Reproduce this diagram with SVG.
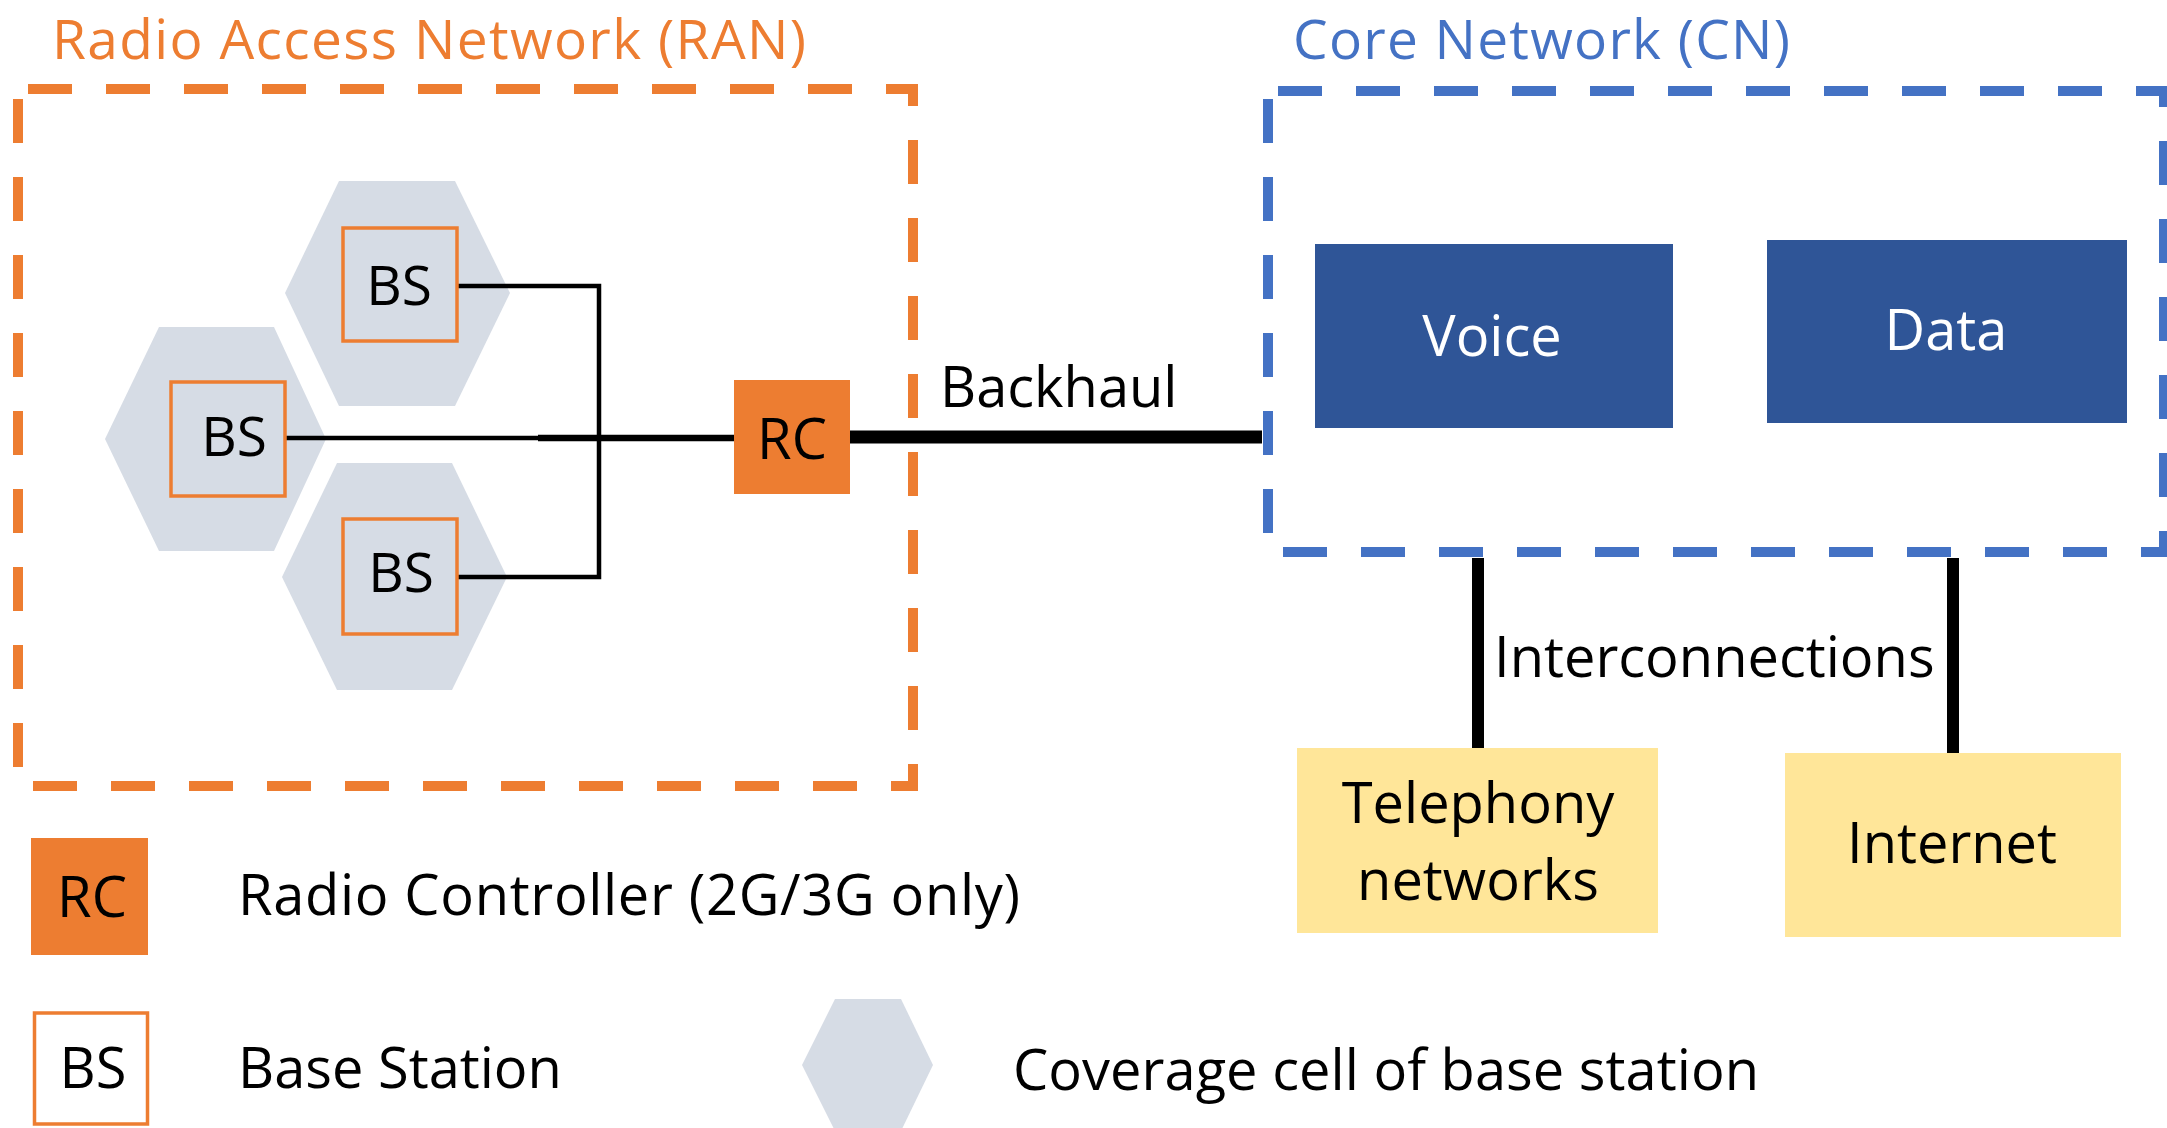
<svg xmlns="http://www.w3.org/2000/svg" width="2167" height="1128" viewBox="0 0 2167 1128">
<style>
text{font-family:"Open Sans","Noto Sans","Liberation Sans",sans-serif;font-size:56px;fill:#000}
.mid{text-anchor:middle}
.hex{fill:#D6DCE5}
.bs{fill:none;stroke:#ED7D31;stroke-width:3.5}
.rc{fill:#ED7D31}
.core{fill:#2F5597}
.ext{fill:#FFE699}
.dash{fill:none;stroke-width:10;stroke-dasharray:44 34;stroke-dashoffset:68}
.ln{fill:none;stroke:#000;stroke-linecap:butt}
.title{font-size:55px}
</style>
<rect width="2167" height="1128" fill="#fff"/>
<g id="ran-group">
<rect class="dash" x="18" y="89" width="895" height="697" stroke="#ED7D31"/>
<text class="title" x="52" y="59" textLength="754" style="fill:#ED7D31">Radio Access Network (RAN)</text>
</g>
<g id="cn-group">
<rect class="dash" x="1268" y="91" width="896" height="461" stroke="#4472C4"/>
<text class="title" x="1293" y="59" textLength="497" style="fill:#4472C4">Core Network (CN)</text>
</g>
<g id="cells">
<polygon id="cell-top" class="hex" points="339,181 455,181 510,293 455,406 339,406 285,293"/>
<polygon id="cell-mid" class="hex" points="159,327 274,327 326,439 274,551 159,551 105,439"/>
<polygon id="cell-bot" class="hex" points="337,463 452,463 507,577 452,690 337,690 282,577"/>
</g>
<g id="connectors">
<polyline class="ln" stroke-width="4.5" points="457,286 599,286 599,577 457,577"/>
<line class="ln" stroke-width="4.5" x1="285" y1="438" x2="540" y2="438"/>
<line class="ln" stroke-width="6.5" x1="538" y1="438" x2="735" y2="438"/>
<line class="ln" stroke-width="13" x1="848" y1="437" x2="1262" y2="437"/>
<line class="ln" stroke-width="12" x1="1478" y1="558" x2="1478" y2="749"/>
<line class="ln" stroke-width="12" x1="1953" y1="558" x2="1953" y2="753"/>
<text x="940" y="407">Backhaul</text>
<text x="1494" y="677">Interconnections</text>
</g>
<g id="bs-top">
<rect class="bs" x="343" y="228" width="114" height="113"/>
<text class="mid" x="399" y="305" style="font-size:55px">BS</text>
</g>
<g id="bs-mid">
<rect class="bs" x="171" y="382" width="114" height="114"/>
<text class="mid" x="234" y="456" style="font-size:55px">BS</text>
</g>
<g id="bs-bot">
<rect class="bs" x="343" y="519" width="114" height="115"/>
<text class="mid" x="401" y="592" style="font-size:55px">BS</text>
</g>
<g id="rc">
<rect class="rc" x="734" y="380" width="116" height="114"/>
<text class="mid" x="792" y="459">RC</text>
</g>
<g id="voice">
<rect class="core" x="1315" y="244" width="358" height="184"/>
<text class="mid" x="1492" y="356" style="fill:#fff">Voice</text>
</g>
<g id="data">
<rect class="core" x="1767" y="240" width="360" height="183"/>
<text class="mid" x="1946" y="350" style="fill:#fff">Data</text>
</g>
<g id="telephony">
<rect class="ext" x="1297" y="748" width="361" height="185"/>
<text class="mid" x="1478" y="823">Telephony</text>
<text class="mid" x="1478" y="900">networks</text>
</g>
<g id="internet">
<rect class="ext" x="1785" y="753" width="336" height="184"/>
<text class="mid" x="1952" y="863">Internet</text>
</g>
<g id="legend">
<g id="legend-rc">
<rect class="rc" x="31" y="838" width="117" height="117"/>
<text class="mid" x="92" y="917">RC</text>
<text x="238" y="915" textLength="782">Radio Controller (2G/3G only)</text>
</g>
<g id="legend-bs">
<rect x="34.5" y="1013" width="113" height="111" fill="#fff" stroke="#ED7D31" stroke-width="3.5"/>
<text class="mid" x="93" y="1088">BS</text>
<text x="238" y="1088">Base Station</text>
</g>
<g id="legend-cell">
<polygon class="hex" points="835,999 901,999 933,1065 901,1131 835,1131 802,1065"/>
<text x="1013" y="1090" textLength="746">Coverage cell of base station</text>
</g>
</g>
</svg>
